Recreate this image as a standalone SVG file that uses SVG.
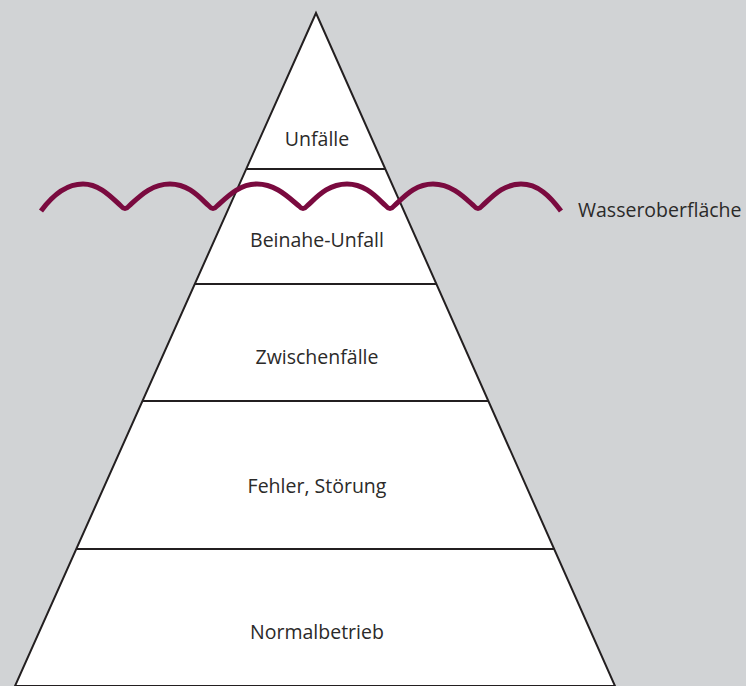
<svg xmlns="http://www.w3.org/2000/svg" width="746" height="686" viewBox="0 0 746 686">
<style>
.lbl{font-family:"Open Sans","Noto Sans","Liberation Sans",sans-serif;font-size:19.5px;fill:#2b2a29;text-anchor:middle}
.edge{stroke:#231f20;stroke-width:2;fill:none}
.wave{stroke:#7a0a3f;stroke-width:5;fill:none;stroke-linecap:butt;stroke-linejoin:round}
</style>
<rect x="0" y="0" width="746" height="686" fill="#d1d3d5"/>
<g id="pyramid">
<polygon points="316,13 15,686 615,686" fill="#ffffff" stroke="#231f20" stroke-width="2"/>
</g>
<g id="connectors">
<line class="edge" x1="246" y1="169" x2="386" y2="169"/>
<line class="edge" x1="195" y1="284" x2="437" y2="284"/>
<line class="edge" x1="143" y1="401" x2="489" y2="401"/>
<line class="edge" x1="77" y1="549" x2="555" y2="549"/>
</g>
<g id="n-unfaelle"><text class="lbl" x="317" y="146">Unfälle</text></g>
<g id="n-beinahe"><text class="lbl" x="317" y="247">Beinahe-Unfall</text></g>
<g id="n-zwischen"><text class="lbl" x="317" y="364">Zwischenfälle</text></g>
<g id="n-fehler"><text class="lbl" x="317" y="493">Fehler, Störung</text></g>
<g id="n-normal"><text class="lbl" x="317" y="639">Normalbetrieb</text></g>
<g id="wave">
<path class="wave" d="M41,211 C52,196 66,184 83,184 C100,184 112,198 121,206 Q125,211 129,206 C139,197 151,184 170,184 C189,184 200,198 209,206 Q213,211 217,206 C227,197 239,184 257,184 C276,184 289,198 299,206 Q303,211 307,206 C317,197 328,184 347,184 C366,184 377,198 386,206 Q390,211 394,206 C404,197 415,184 433,184 C452,184 465,198 474,206 Q478,211 482,206 C492,197 503,184 521,184 C538,184 550,196 561,211"/>
<text x="578" y="217" style="font-family:'Open Sans','Noto Sans','Liberation Sans',sans-serif;font-size:19.5px;fill:#2b2a29">Wasseroberfläche</text>
</g>
</svg>
